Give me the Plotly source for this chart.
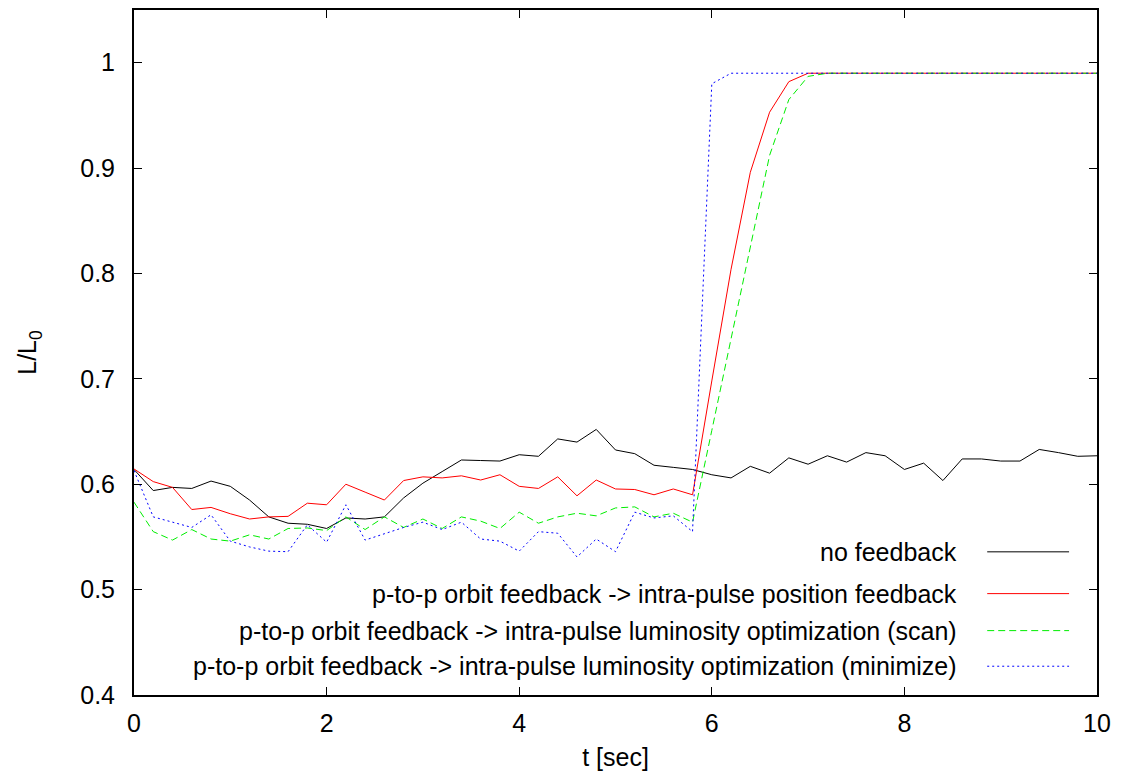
import plotly.graph_objects as go

t = [0.0, 0.2, 0.4, 0.6, 0.8, 1.0, 1.2, 1.4, 1.6, 1.8,
     2.0, 2.2, 2.4, 2.6, 2.8, 3.0, 3.2, 3.4, 3.6, 3.8,
     4.0, 4.2, 4.4, 4.6, 4.8, 5.0, 5.2, 5.4, 5.6, 5.8,
     6.0, 6.2, 6.4, 6.6, 6.8, 7.0, 7.2, 7.4, 7.6, 7.8,
     8.0, 8.2, 8.4, 8.6, 8.8, 9.0, 9.2, 9.4, 9.6, 9.8, 10.0]

no_feedback = [0.614, 0.594, 0.597, 0.596, 0.603, 0.598, 0.585, 0.569, 0.563, 0.562,
               0.558, 0.568, 0.567, 0.569, 0.587, 0.601, 0.612, 0.623, 0.6225, 0.622,
               0.628, 0.6265, 0.643, 0.640, 0.652, 0.6325, 0.629, 0.618, 0.616, 0.614,
               0.609, 0.606, 0.617, 0.6105, 0.625, 0.619, 0.627, 0.621, 0.630, 0.627,
               0.614, 0.620, 0.6035, 0.624, 0.624, 0.622, 0.622, 0.633, 0.630, 0.6265, 0.627]

position_fb = [0.6145, 0.6025, 0.597, 0.576, 0.578, 0.572, 0.567, 0.569, 0.5695, 0.582,
               0.5805, 0.600, 0.5925, 0.585, 0.6035, 0.607, 0.606, 0.608, 0.604, 0.609,
               0.598, 0.596, 0.607, 0.589, 0.604, 0.5955, 0.595, 0.590, 0.5955, 0.590,
               0.698, 0.804, 0.896, 0.953, 0.982, 0.990, 0.990, 0.990, 0.990, 0.990,
               0.990, 0.990, 0.990, 0.990, 0.990, 0.990, 0.990, 0.990, 0.990, 0.990, 0.990]

lumi_scan = [0.583, 0.555, 0.547, 0.557, 0.548, 0.546, 0.552, 0.548, 0.558, 0.5585,
             0.556, 0.569, 0.557, 0.569, 0.559, 0.567, 0.558, 0.569, 0.565, 0.558,
             0.5735, 0.563, 0.569, 0.5725, 0.570, 0.5775, 0.5785, 0.569, 0.5725, 0.564,
             0.651, 0.738, 0.825, 0.912, 0.965, 0.987, 0.990, 0.990, 0.990, 0.990,
             0.990, 0.990, 0.990, 0.990, 0.990, 0.990, 0.990, 0.990, 0.990, 0.990, 0.990]

lumi_min = [0.613, 0.569, 0.564, 0.559, 0.571, 0.546, 0.5405, 0.5365, 0.536, 0.5615,
            0.545, 0.5805, 0.547, 0.553, 0.559, 0.564, 0.557, 0.564, 0.548, 0.546,
            0.5365, 0.555, 0.5535, 0.531, 0.548, 0.536, 0.5735, 0.568, 0.570, 0.555,
            0.980, 0.990, 0.990, 0.990, 0.990, 0.990, 0.990, 0.990, 0.990, 0.990,
            0.990, 0.990, 0.990, 0.990, 0.990, 0.990, 0.990, 0.990, 0.990, 0.990, 0.990]

names = ["no feedback",
         "p-to-p orbit feedback -> intra-pulse position feedback",
         "p-to-p orbit feedback -> intra-pulse luminosity optimization (scan)",
         "p-to-p orbit feedback -> intra-pulse luminosity optimization (minimize)"]
colors = ["#000000", "#ff0000", "#00ee00", "#0000ff"]
dashes = ["solid", "solid", "7px,4px", "2px,3px"]
series = [no_feedback, position_fb, lumi_scan, lumi_min]

FONT = "Liberation Sans, Arial, sans-serif"
FS = 25

fig = go.Figure()
for name, ys, c, d in zip(names, series, colors, dashes):
    fig.add_trace(go.Scatter(x=t, y=ys, mode="lines", name=name,
                             line=dict(color=c, width=1, dash=d),
                             showlegend=False))

# gnuplot-style legend: right-aligned text with line sample on the right
leg_y = [0.209, 0.148, 0.094, 0.042]
for i, (name, c, d) in enumerate(zip(names, colors, dashes)):
    y = leg_y[i]
    fig.add_annotation(x=0.857, y=y, xref="paper", yref="paper", text=name,
                       showarrow=False, xanchor="right", yanchor="middle",
                       font=dict(family=FONT, size=FS, color="black"))
    fig.add_shape(type="line", xref="paper", yref="paper",
                  x0=0.886, x1=0.971, y0=y, y1=y,
                  line=dict(color=c, width=1, dash=d))

axis_common = dict(showline=True, linecolor="black", linewidth=2, mirror="ticks",
                   ticks="inside", ticklen=8, tickwidth=1, tickcolor="black",
                   showgrid=False, zeroline=False,
                   tickfont=dict(family=FONT, size=FS, color="black"))

fig.update_xaxes(range=[0, 10], dtick=2, tick0=0, ticklabelstandoff=5,
                 title=dict(text="t [sec]", font=dict(family=FONT, size=FS, color="black"), standoff=12),
                 **axis_common)
fig.update_yaxes(range=[0.4, 1.05], tickvals=[0.4, 0.5, 0.6, 0.7, 0.8, 0.9, 1.0],
                 ticktext=["0.4", "0.5", "0.6", "0.7", "0.8", "0.9", "1"], ticklabelstandoff=12,
                 title=dict(text="L/L<sub>0</sub>", font=dict(family=FONT, size=FS, color="black"), standoff=36),
                 **axis_common)

fig.update_layout(width=1131, height=775, margin=dict(l=134, r=34, t=8, b=78),
                  paper_bgcolor="white", plot_bgcolor="white",
                  font=dict(family=FONT, size=FS, color="black"))

fig.write_html("out.html")
